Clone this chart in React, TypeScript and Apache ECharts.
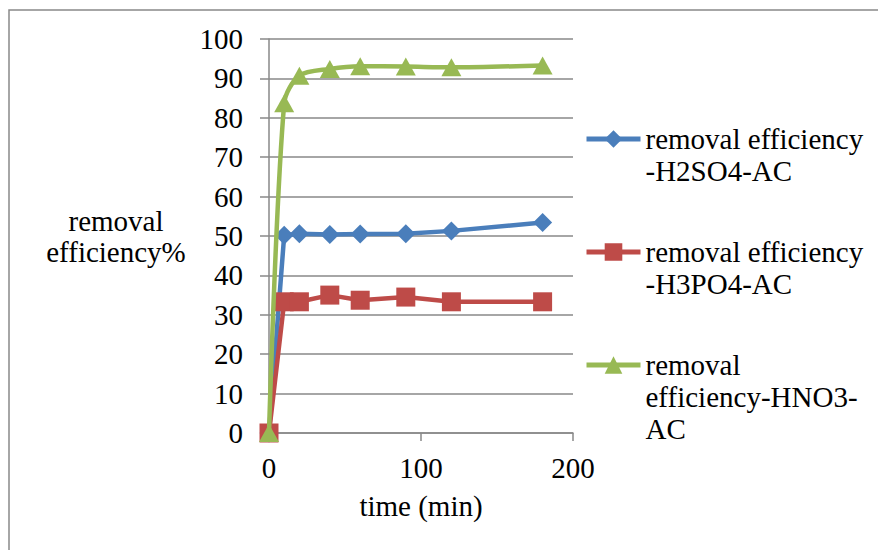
import React, { useEffect, useRef } from "react";
import * as echarts from "echarts";

const times = [0, 10, 20, 40, 60, 90, 120, 180];
const h2so4 = [0, 50.2, 50.6, 50.4, 50.5, 50.6, 51.3, 53.4];
const h3po4 = [0, 33.3, 33.3, 35.0, 33.7, 34.5, 33.3, 33.3];
const hno3 = [0, 83.7, 90.7, 92.4, 93.1, 93.0, 92.8, 93.3];

const seriesNames = [
  "removal efficiency-H2SO4-AC",
  "removal efficiency-H3PO4-AC",
  "removal efficiency-HNO3-AC",
];
const legendLabels = [
  "\nremoval efficiency\n-H2SO4-AC",
  "\nremoval efficiency\n-H3PO4-AC",
  "\n\nremoval\nefficiency-HNO3-\nAC",
];
const xTitle = "time (min)";
const yTitle = "removal\nefficiency%";

const FONT = "Liberation Serif";
const GRAY = "#898989";
const colors = ["#4a7ebb", "#be4b48", "#98b954"];
const symbols = ["diamond", "rect", "triangle"];

export default function App() {
  const ref = useRef<HTMLDivElement>(null);
  useEffect(() => {
    if (!ref.current) return;
    const chart = echarts.init(ref.current, null, { renderer: "svg" });
    const datasets = [h2so4, h3po4, hno3];
    const legendTops = [91, 204, 285];
    const txt = { fontFamily: FONT, fontSize: 29, color: "#000" };
    const option: any = {
      animation: false,
      backgroundColor: "#ffffff",
      textStyle: { fontFamily: FONT, color: "#000" },
      graphic: [
        {
          type: "rect",
          shape: { x: 9, y: 10, width: 900, height: 600 },
          style: { fill: "none", stroke: GRAY, lineWidth: 1.5 },
          silent: true,
        },
      ],
      grid: { left: 269, right: 305, top: 39, bottom: 117, containLabel: false },
      xAxis: {
        type: "value",
        min: 0,
        max: 200,
        interval: 100,
        name: xTitle,
        nameLocation: "middle",
        nameGap: 57,
        nameTextStyle: { ...txt, lineHeight: 32 },
        axisLine: { show: true, lineStyle: { color: GRAY, width: 1.5 } },
        axisTick: { show: true, length: 8, lineStyle: { color: GRAY, width: 1.5 } },
        axisLabel: { ...txt, margin: 20 },
        splitLine: { show: false },
      },
      yAxis: {
        type: "value",
        min: 0,
        max: 100,
        interval: 10,
        name: yTitle,
        nameLocation: "middle",
        nameRotate: 0,
        nameGap: 153,
        nameTextStyle: {
          ...txt,
          lineHeight: 31,
          align: "center",
          verticalAlign: "middle",
        },
        axisLine: { show: true, lineStyle: { color: GRAY, width: 1.5 } },
        axisTick: { show: true, length: 9, lineStyle: { color: GRAY, width: 1.5 } },
        axisLabel: { ...txt, margin: 26 },
        splitLine: { show: true, lineStyle: { color: GRAY, width: 1.5 } },
      },
      legend: seriesNames.map((n, i) => ({
        data: [n],
        orient: "vertical",
        left: 584,
        top: legendTops[i],
        padding: 0,
        itemWidth: 54,
        itemHeight: 22,
        selectedMode: false,
        formatter: () => legendLabels[i],
        lineStyle: { width: 5 },
        textStyle: { ...txt, lineHeight: 32 },
      })),
      series: seriesNames.map((n, i) => ({
        name: n,
        type: "line",
        data: times.map((t, j) => [t, datasets[i][j]]),
        color: colors[i],
        symbol: symbols[i],
        symbolSize: i === 2 ? [20, 18] : 19,
        smooth: i === 2 ? 0.3 : false,
        showSymbol: true,
        clip: false,
        lineStyle: { width: 4.5, color: colors[i] },
        itemStyle: { color: colors[i] },
        z: 2 + i,
      })),
    };
    chart.setOption(option);
    return () => chart.dispose();
  }, []);
  return (
    <div
      ref={ref}
      style={{ position: "absolute", left: 0, top: 0, width: 878, height: 550 }}
    />
  );
}
